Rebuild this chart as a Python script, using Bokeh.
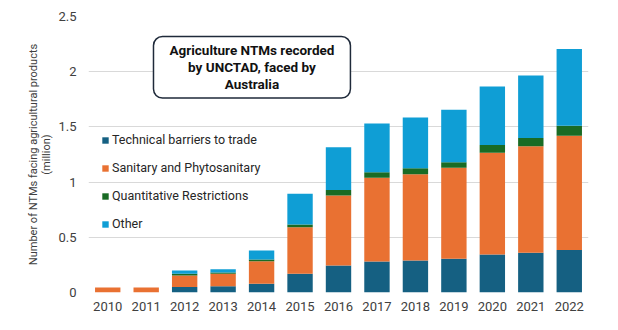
from bokeh.plotting import figure
from bokeh.models import FactorRange, Range1d, Legend, LegendItem, Label, NumeralTickFormatter, FixedTicker
from bokeh.embed import file_html
from bokeh.resources import INLINE

years = [str(y) for y in range(2010, 2023)]
tbt = [0.0, 0.0, 0.05, 0.057, 0.079, 0.17, 0.245, 0.28, 0.29, 0.305, 0.345, 0.36, 0.385]
sps = [0.045, 0.045, 0.105, 0.112, 0.205, 0.42, 0.634, 0.76, 0.78, 0.825, 0.92, 0.965, 1.035]
qr = [0.0, 0.0, 0.015, 0.012, 0.015, 0.025, 0.05, 0.05, 0.055, 0.05, 0.07, 0.075, 0.09]
other = [0.0, 0.0, 0.03, 0.03, 0.081, 0.28, 0.386, 0.44, 0.46, 0.475, 0.53, 0.565, 0.695]
series = ["tbt", "sps", "qr", "other"]
labels = ["Technical barriers to trade", "Sanitary and Phytosanitary",
          "Quantitative Restrictions", "Other"]
colors = ["#156082", "#E97132", "#196B24", "#0F9ED5"]
yticks = [0, 0.5, 1, 1.5, 2, 2.5]
title_text = "Agriculture NTMs recorded\nby UNCTAD, faced by\nAustralia"
ylabel = "Number of NTMs facing agricultural products\n(million)"

FONT = "Roboto"

data = dict(years=years, tbt=tbt, sps=sps, qr=qr, other=other)

p = figure(width=618, height=330, x_range=FactorRange(factors=years, range_padding=0),
           y_range=Range1d(0, 2.5), output_backend="svg", toolbar_location=None,
           min_border_left=88, min_border_right=30, min_border_top=16, min_border_bottom=38)
p.outline_line_color = None
p.background_fill_color = "white"
p.border_fill_color = "white"

rs = p.vbar_stack(series, x="years", width=0.66, color=colors, line_color=None, source=data)

p.xgrid.grid_line_color = None
p.ygrid.grid_line_color = "#d9d9d9"
p.ygrid.grid_line_width = 1
p.yaxis.ticker = FixedTicker(ticks=yticks)
p.yaxis.formatter = NumeralTickFormatter(format="0.[0]")

for ax in (p.xaxis, p.yaxis):
    ax.axis_line_color = None
    ax.major_tick_line_color = None
    ax.minor_tick_line_color = None
    ax.major_tick_out = 0
    ax.major_tick_in = 0
    ax.major_label_text_font = FONT
    ax.major_label_text_font_size = "13px"
    ax.major_label_text_color = "#404040"

p.yaxis.major_label_standoff = 12
p.xaxis.major_label_standoff = 9
p.yaxis.axis_label = ylabel
p.yaxis.axis_label_text_font = FONT
p.yaxis.axis_label_text_font_size = "11px"
p.yaxis.axis_label_text_font_style = "normal"
p.yaxis.axis_label_text_color = "#404040"
p.yaxis.axis_label_text_line_height = 1.05
p.yaxis.axis_label_standoff = 2

legend = Legend(items=[LegendItem(label=l, renderers=[r]) for l, r in zip(labels, rs)],
                location=(13, 61), orientation="vertical",
                glyph_width=8, glyph_height=8, label_standoff=3, label_height=14,
                spacing=13, padding=0, margin=0, border_line_color=None,
                background_fill_alpha=0, label_text_font=FONT,
                label_text_font_size="12.5px", label_text_color="#262626")
p.add_layout(legend, "center")

title = Label(x=4.25, y=2.04, text=title_text, text_align="center", text_baseline="middle",
              text_font=FONT, text_font_size="13.5px", text_font_style="bold",
              text_color="#111111", text_line_height=1.05,
              border_line_color="#1f2a3a", border_line_width=1.5, border_radius=9,
              background_fill_color="white",
              padding=dict(left=16, right=16, top=6, bottom=6))
p.add_layout(title)

open("out.html", "w").write(file_html(p, INLINE))
